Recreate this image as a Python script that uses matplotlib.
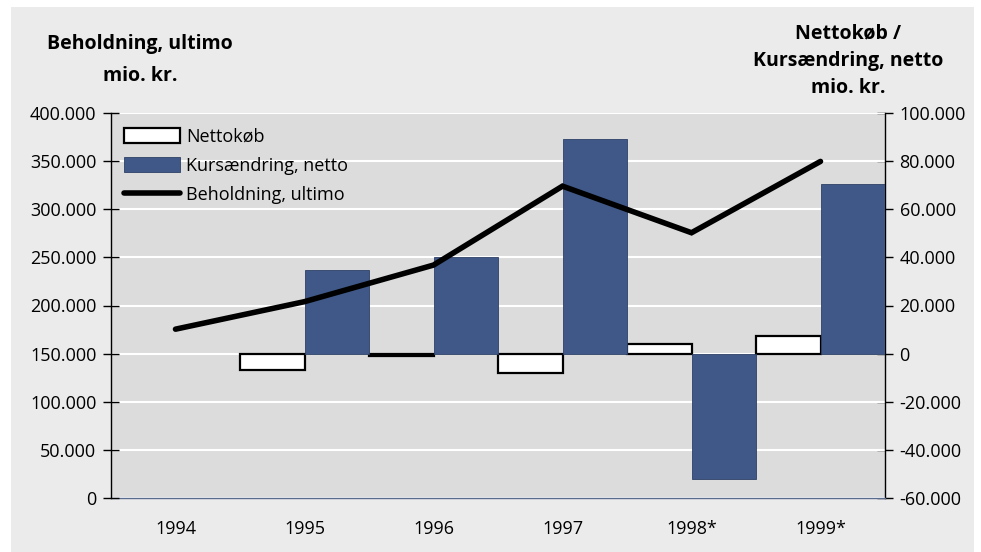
import matplotlib
matplotlib.use("Agg")
import matplotlib.pyplot as plt
import numpy as np
from matplotlib.ticker import FuncFormatter, FixedLocator
from matplotlib.patches import Rectangle
from matplotlib.lines import Line2D

categories = ["1994", "1995", "1996", "1997", "1998*", "1999*"]
nettokoeb = [np.nan, -6800, -800, -8100, 4100, 7300]
kursaendring = [np.nan, 34800, 40200, 89300, -52200, 70400]
beholdning = [175400, 204000, 242000, 324000, 275600, 349700]

left_ticks = list(range(0, 400001, 50000))
right_ticks = list(range(-60000, 100001, 20000))

plt.rcParams['axes.unicode_minus'] = False
FONT = ['Open Sans', 'DejaVu Sans']
plt.rcParams['font.family'] = FONT

W, H = 981, 552
fig = plt.figure(figsize=(W / 100, H / 100), dpi=100)
fig.patch.set_facecolor('white')
bg = Rectangle((11 / W, 0), (974 - 11) / W, (H - 7) / H,
               transform=fig.transFigure, facecolor='#ebebeb',
               edgecolor='none', zorder=-10)
fig.patches.append(bg)

ax = fig.add_axes([111 / W, 1 - 498 / H, (885 - 111) / W, (498 - 113) / H])
ax2 = ax.twinx()

x = np.arange(len(categories))
ax.set_facecolor('#dcdcdc')
ax.set_axisbelow(True)

bw = 0.5
ax.bar(x - bw / 2, nettokoeb, width=bw, color='white', edgecolor='black',
       linewidth=1.6, zorder=3, label='Nettokøb')
ax.bar(x + bw / 2, kursaendring, width=bw, color='#3f5887', edgecolor='#2e4068',
       linewidth=0.6, zorder=3, label='Kursændring, netto')
ax.set_ylim(-60000, 100000)
ax.set_xlim(-0.5, 5.5)

ax2.plot(x, beholdning, color='black', linewidth=4.0, solid_capstyle='round',
         solid_joinstyle='miter', zorder=5)
ax2.set_ylim(0, 400000)

for v in right_ticks:
    ax.axhline(v, color='white', linewidth=1.5, zorder=1)

fmt = FuncFormatter(lambda v, p: f"{v:,.0f}".replace(',', '.'))
ax.yaxis.set_major_locator(FixedLocator(right_ticks))
ax.yaxis.set_major_formatter(fmt)
ax2.yaxis.set_major_locator(FixedLocator(left_ticks))
ax2.yaxis.set_major_formatter(fmt)

ax.yaxis.tick_right()
ax2.yaxis.tick_left()

for a in (ax, ax2):
    for s in a.spines.values():
        s.set_visible(False)
ax.spines['right'].set_visible(True)
ax.spines['right'].set_color('black')
ax.spines['right'].set_linewidth(1.0)
ax2.spines['left'].set_visible(True)
ax2.spines['left'].set_color('black')
ax2.spines['left'].set_linewidth(1.0)
ax.spines['bottom'].set_visible(True)
ax.spines['bottom'].set_color('#5a6c8e')
ax.spines['bottom'].set_linewidth(1.0)

ax.tick_params(axis='y', which='both', direction='inout', length=11, width=1,
               pad=5, labelsize=13, colors='black')
ax2.tick_params(axis='y', which='both', direction='inout', length=11, width=1,
                pad=5, labelsize=13, colors='black')
ax.set_xticks(x)
ax.set_xticklabels(categories)
ax.tick_params(axis='x', length=0, pad=16, labelsize=13)

handles = [Rectangle((0, 0), 1, 1, facecolor='white', edgecolor='black', linewidth=1.6),
           Rectangle((0, 0), 1, 1, facecolor='#3f5887', edgecolor='#2e4068', linewidth=0.6),
           Line2D([0], [0], color='black', linewidth=4.0, solid_capstyle='round')]
labels = ['Nettokøb', 'Kursændring, netto', 'Beholdning, ultimo']
leg = ax2.legend(handles, labels, loc='upper left', bbox_to_anchor=(0.0, 0.995),
                 frameon=False, fontsize=13, handlelength=3.1, handleheight=0.85,
                 handletextpad=0.35, labelspacing=0.62, borderaxespad=0.3)
leg.set_zorder(10)

tk = dict(ha='center', va='center', fontsize=14, fontweight='bold')
fig.text(140 / W, 1 - 44 / H, "Beholdning, ultimo", **tk)
fig.text(140 / W, 1 - 76 / H, "mio. kr.", **tk)
fig.text(848 / W, 1 - 33 / H, "Nettokøb /", **tk)
fig.text(848 / W, 1 - 61 / H, "Kursændring, netto", **tk)
fig.text(848 / W, 1 - 88 / H, "mio. kr.", **tk)

fig.savefig("out.png", dpi=100, facecolor=fig.get_facecolor())
